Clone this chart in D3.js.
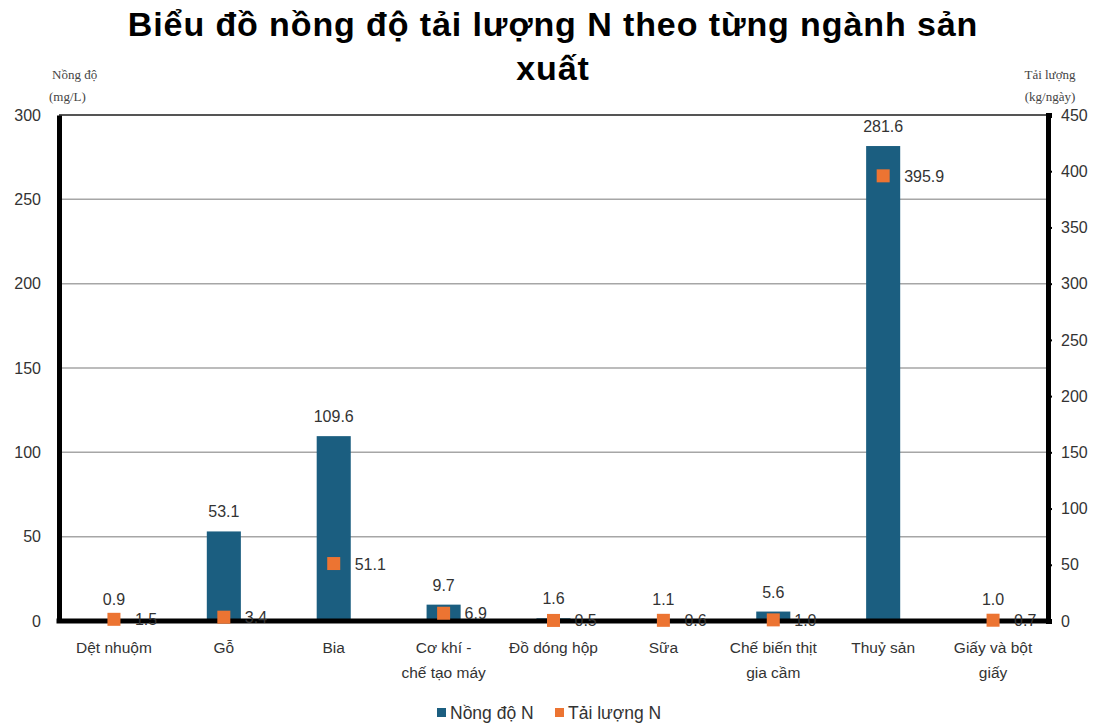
<!DOCTYPE html>
<html><head><meta charset="utf-8">
<script src="https://cdn.jsdelivr.net/npm/d3@7"></script>
<style>body{margin:0;background:#fff}svg{display:block}</style>
</head><body>
<svg id="c" width="1099" height="725"></svg>
<script>
const categories = [["Dệt nhuộm"],["Gỗ"],["Bia"],["Cơ khí -","chế tạo máy"],["Đồ dóng hộp"],["Sữa"],["Chế biến thịt","gia cầm"],["Thuỷ sản"],["Giấy và bột","giấy"]];
const concentration = [0.9, 53.1, 109.6, 9.7, 1.6, 1.1, 5.6, 281.6, 1.0];
const load = [1.5, 3.4, 51.1, 6.9, 0.5, 0.6, 1.0, 395.9, 0.7];
const leftTicks = [0,50,100,150,200,250,300];
const rightTicks = [0,50,100,150,200,250,300,350,400,450];
const seriesNames = ["Nồng độ N","Tải lượng N"];

const svg = d3.select("#c");
const L = 59, R = 1048, T = 115, B = 621;
const keys = categories.map((d,i)=>i);
const x = d3.scaleBand().domain(keys).range([L,R]).paddingInner(0.69).paddingOuter(0.345);
const yL = d3.scaleLinear().domain([0,300]).range([B,T]);
const yR = d3.scaleLinear().domain([0,450]).range([B,T]);
const blue = "#1b5e80", orange = "#ec7432";
const font = "Liberation Sans, Arial, sans-serif";

// gridlines
svg.append("g").selectAll("line").data(leftTicks.slice(1,-1)).join("line")
  .attr("x1",L).attr("x2",R).attr("y1",d=>yL(d)).attr("y2",d=>yL(d))
  .attr("stroke","#a6a6a6").attr("stroke-width",1.5);
// top border
svg.append("line").attr("x1",L).attr("x2",R).attr("y1",T).attr("y2",T).attr("stroke","#555").attr("stroke-width",2);

// bars
svg.append("g").selectAll("rect").data(concentration).join("rect")
  .attr("x",(d,i)=>x(i)).attr("width",x.bandwidth())
  .attr("y",d=>yL(d)).attr("height",d=>B-yL(d)).attr("fill",blue);

// axes
const axL = svg.append("g").attr("transform",`translate(${L},0)`).call(d3.axisLeft(yL).tickValues(leftTicks).tickSize(0).tickPadding(18));
axL.select(".domain").attr("stroke","#000").attr("stroke-width",5);
axL.selectAll("text").attr("font-family",font).attr("font-size",16).attr("fill","#333");
const axR = svg.append("g").attr("transform",`translate(${R},0)`).call(d3.axisRight(yR).tickValues(rightTicks).tickSize(4).tickPadding(9));
axR.select(".domain").attr("stroke","#000").attr("stroke-width",5);
axR.selectAll(".tick line").attr("stroke","#000").attr("stroke-width",2);
axR.selectAll("text").attr("font-family",font).attr("font-size",16).attr("fill","#333");
svg.append("line").attr("x1",L-2.5).attr("x2",R+2.5).attr("y1",B).attr("y2",B).attr("stroke","#000").attr("stroke-width",5);

// markers
const ms = 13;
svg.append("g").selectAll("rect").data(load).join("rect")
  .attr("x",(d,i)=>x(i)+x.bandwidth()/2-ms/2).attr("y",d=>yR(d)-ms/2)
  .attr("width",ms).attr("height",ms).attr("fill",orange);

// bar labels
svg.append("g").selectAll("text").data(concentration).join("text")
  .attr("x",(d,i)=>x(i)+x.bandwidth()/2).attr("y",d=>yL(d)-14)
  .attr("text-anchor","middle").attr("font-family",font).attr("font-size",16).attr("fill","#333")
  .text(d=>d.toFixed(1));
// marker labels
svg.append("g").selectAll("text").data(load).join("text")
  .attr("x",(d,i)=>x(i)+x.bandwidth()/2+21).attr("y",d=>yR(d)+6)
  .attr("font-family",font).attr("font-size",16).attr("fill","#333")
  .text(d=>d.toFixed(1));

// category labels
const cl = svg.append("g").selectAll("text").data(categories).join("text")
  .attr("x",(d,i)=>x(i)+x.bandwidth()/2).attr("y",653)
  .attr("text-anchor","middle").attr("font-family",font).attr("font-size",15.5).attr("fill","#333");
cl.each(function(d){
  const t = d3.select(this);
  d.forEach((s,j)=>t.append("tspan").attr("x",t.attr("x")).attr("dy",j?25:0).text(s));
});

// title
const title = svg.append("text").attr("x",553).attr("y",36).attr("text-anchor","middle")
  .attr("font-family",font).attr("font-weight","bold").attr("font-size",34).attr("letter-spacing",0.9).attr("fill","#000");
title.append("tspan").attr("x",553).text("Biểu đồ nồng độ tải lượng N theo từng ngành sản");
title.append("tspan").attr("x",553).attr("dy",44).text("xuất");

// axis titles
const sf = "Liberation Serif, Times New Roman, serif";
const at1 = svg.append("text").attr("font-family",sf).attr("font-size",13).attr("fill","#444");
at1.append("tspan").attr("x",52).attr("y",79).text("Nồng độ");
at1.append("tspan").attr("x",49).attr("y",101).text("(mg/L)");
const at2 = svg.append("text").attr("font-family",sf).attr("font-size",13).attr("fill","#444").attr("text-anchor","middle");
at2.append("tspan").attr("x",1050).attr("y",79).text("Tải lượng");
at2.append("tspan").attr("x",1050).attr("y",101).text("(kg/ngày)");

// legend
const lg = svg.append("g").attr("font-family",font).attr("font-size",17.5).attr("fill","#333");
[[blue,437,seriesNames[0]],[orange,555,seriesNames[1]]].forEach(([c,lx,t])=>{
  lg.append("rect").attr("x",lx).attr("y",708).attr("width",9).attr("height",9).attr("fill",c);
  lg.append("text").attr("x",lx+13).attr("y",719).text(t);
});
</script>
</body></html>
